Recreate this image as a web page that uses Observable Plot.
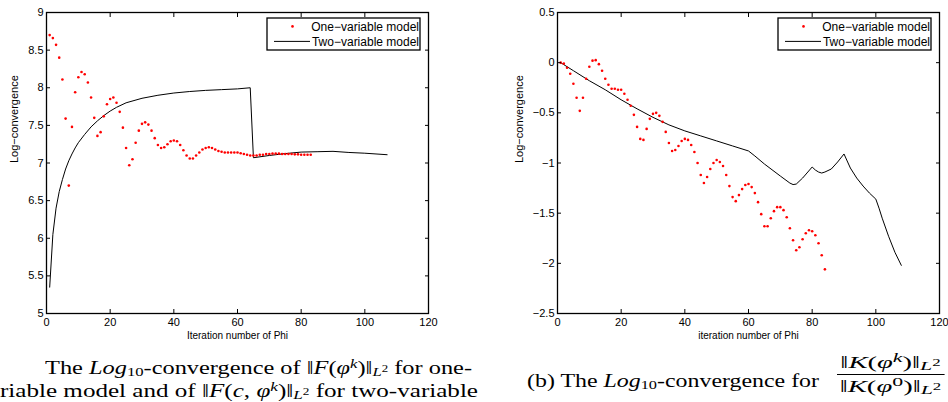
<!DOCTYPE html>
<html><head><meta charset="utf-8">
<script src="https://cdn.jsdelivr.net/npm/d3@7"></script>
<script src="https://cdn.jsdelivr.net/npm/@observablehq/plot@0.6"></script>
<style>
body{margin:0;background:#fff;width:948px;height:402px;overflow:hidden;position:relative;font-family:"Liberation Sans",Arial,sans-serif;}
.panel{position:absolute;top:0;}
.legend{position:absolute;}
.cap{position:absolute;font-family:"Liberation Serif","Times New Roman",serif;font-size:19px;line-height:19px;height:19px;white-space:nowrap;color:#000;transform-origin:0 0;}
.sb{position:relative;top:2px;font-size:13px;line-height:0;}
.sp{position:relative;top:-6px;font-size:13px;line-height:0;}
.ssp{position:relative;top:-4px;font-size:10px;line-height:0;}
.frac{position:absolute;font-family:"Liberation Serif","Times New Roman",serif;font-size:17px;line-height:17px;white-space:nowrap;text-align:center;transform-origin:0 0;}
.frac .num{padding:0 2px 3px 2px;border-bottom:1.3px solid #000;}
.frac .den{padding-top:3px;}
</style></head><body>
<div id="left" class="panel" style="left:0"></div>
<div id="right" class="panel" style="left:474px"></div>
<div id="capA1" class="cap" style="left:45px;top:358px">The <i>Log</i><span class="sb">10</span>-convergence of ‖<i>F</i>(<i>φ</i><span class="sp"><i>k</i></span>)‖<span class="sb"><i>L</i><span class="ssp">2</span></span> for one-</div>
<div id="capA2" class="cap" style="left:0px;top:381px">riable model and of ‖<i>F</i>(<i>c</i>, <i>φ</i><span class="sp"><i>k</i></span>)‖<span class="sb"><i>L</i><span class="ssp">2</span></span> for two-variable</div>
<div id="capB" class="cap" style="left:527px;top:371px">(b) The <i>Log</i><span class="sb">10</span>-convergence for</div>
<div id="fracB" class="frac" style="left:837px;top:354px"><div class="num">‖<i>K</i>(<i>φ</i><span class="sp"><i>k</i></span>)‖<span class="sb"><i>L</i><span class="ssp">2</span></span></div><div class="den">‖<i>K</i>(<i>φ</i><span class="sp">0</span>)‖<span class="sb"><i>L</i><span class="ssp">2</span></span></div></div>
<script>
// ---- tick values ----
const xTicks = [0, 20, 40, 60, 80, 100, 120];
const yTicksA = [5, 5.5, 6, 6.5, 7, 7.5, 8, 8.5, 9];
const yTicksB = [-2.5, -2, -1.5, -1, -0.5, 0, 0.5];
const seriesNames = ["One\u2212variable model", "Two\u2212variable model"];
const xLabels = ["Iteration number of Phi", "iteration number of Phi"];
const yLabel = "Log\u2212convergence";

// ---- panel (a): one-variable model (dots) ----
const iterA1 = [1,2,3,4,5,6,7,8,9,10,11,12,13,14,15,16,17,18,19,20,21,22,23,24,25,26,27,28,29,30,31,32,33,34,35,36,37,38,39,40,41,42,43,44,45,46,47,48,49,50,51,52,53,54,55,56,57,58,59,60,61,62,63,64,65,66,67,68,69,70,71,72,73,74,75,76,77,78,79,80,81,82,83];
const valA1 = [8.70,8.66,8.57,8.40,8.11,7.59,6.70,7.48,7.94,8.14,8.21,8.18,8.07,7.87,7.60,7.36,7.41,7.62,7.78,7.85,7.87,7.80,7.68,7.47,7.20,6.97,7.05,7.27,7.43,7.52,7.54,7.51,7.43,7.33,7.24,7.20,7.21,7.25,7.29,7.30,7.29,7.24,7.17,7.10,7.06,7.06,7.10,7.14,7.18,7.20,7.21,7.20,7.18,7.16,7.15,7.14,7.14,7.14,7.14,7.14,7.13,7.12,7.11,7.10,7.10,7.10,7.11,7.11,7.12,7.12,7.125,7.125,7.125,7.12,7.12,7.12,7.12,7.115,7.115,7.11,7.11,7.11,7.11];
// ---- panel (a): two-variable model (line) ----
const iterA2 = [1,2,3,4,5,6,7,8,9,10,12,14,16,18,20,22,25,30,35,40,45,50,55,60,64,65,70,75,80,85,90,95,100,107];
const valA2 = [5.35,6.05,6.40,6.62,6.78,6.92,7.03,7.12,7.20,7.27,7.38,7.48,7.56,7.63,7.69,7.74,7.80,7.86,7.90,7.93,7.95,7.965,7.975,7.985,8.00,7.07,7.10,7.125,7.145,7.15,7.155,7.14,7.13,7.11];

// ---- panel (b): one-variable model (dots) ----
const iterB1 = [1,2,3,4,5,6,7,8,9,10,11,12,13,14,15,16,17,18,19,20,21,22,23,24,25,26,27,28,29,30,31,32,33,34,35,36,37,38,39,40,41,42,43,44,45,46,47,48,49,50,51,52,53,54,55,56,57,58,59,60,61,62,63,64,65,66,67,68,69,70,71,72,73,74,75,76,77,78,79,80,81,82,83,84];
const valB1 = [0.00,-0.01,-0.05,-0.11,-0.21,-0.35,-0.48,-0.35,-0.16,-0.04,0.02,0.025,-0.015,-0.08,-0.16,-0.22,-0.26,-0.26,-0.27,-0.27,-0.31,-0.37,-0.43,-0.52,-0.64,-0.76,-0.77,-0.66,-0.56,-0.51,-0.50,-0.53,-0.59,-0.69,-0.80,-0.88,-0.87,-0.83,-0.78,-0.76,-0.77,-0.82,-0.89,-1.00,-1.12,-1.20,-1.14,-1.06,-1.00,-0.97,-0.99,-1.03,-1.12,-1.23,-1.34,-1.38,-1.32,-1.26,-1.22,-1.21,-1.24,-1.30,-1.39,-1.51,-1.63,-1.63,-1.55,-1.48,-1.44,-1.44,-1.47,-1.54,-1.65,-1.77,-1.87,-1.84,-1.76,-1.70,-1.67,-1.68,-1.72,-1.80,-1.92,-2.06];
// ---- panel (b): two-variable model (line) ----
const iterB2 = [1,5,10,15,20,25,30,35,40,45,50,55,60,62,65,70,73,74,75,77,80,81,82,83,84,86,88,90,91,92,94,96,98,100,101,102,104,106,108];
const valB2 = [0,-0.08,-0.18,-0.27,-0.37,-0.46,-0.545,-0.62,-0.68,-0.73,-0.78,-0.83,-0.88,-0.93,-1.01,-1.13,-1.20,-1.215,-1.21,-1.15,-1.04,-1.07,-1.09,-1.10,-1.09,-1.06,-0.99,-0.91,-0.98,-1.05,-1.15,-1.23,-1.30,-1.36,-1.45,-1.55,-1.73,-1.89,-2.02];

const fmtTick = d => d < 0 ? "\u2212" + Math.abs(d) : String(d);

function panel({iter1, val1, iter2, val2, yDomain, yTicks, xLabel, width, marginLeft, marginRight, yLabelDx}) {
  const dots = iter1.map((x, i) => ({x, y: val1[i]}));
  const line = iter2.map((x, i) => ({x, y: val2[i]}));
  return Plot.plot({
    width, height: 345, marginLeft, marginRight, marginTop: 12, marginBottom: 32,
    x: {domain: [0, 120]},
    y: {domain: yDomain},
    style: {fontFamily: "'Liberation Sans', Arial, sans-serif", fontSize: "11px", color: "#000", background: "#fff"},
    marks: [
      Plot.line(line, {x: "x", y: "y", stroke: "#000", strokeWidth: 1}),
      Plot.dot(dots, {x: "x", y: "y", fill: "red", r: 1.3}),
      Plot.axisX({ticks: xTicks, tickSize: -4, tickPadding: 9, label: null, tickFormat: fmtTick, stroke: "#000"}),
      Plot.axisX({anchor: "top", ticks: xTicks, tickSize: -4, tickFormat: () => "", label: null}),
      Plot.axisY({ticks: yTicks, tickSize: -4, tickPadding: 7, label: null, tickFormat: fmtTick}),
      Plot.axisY({anchor: "right", ticks: yTicks, tickSize: -4, tickFormat: () => "", label: null}),
      Plot.frame({stroke: "#000", strokeWidth: 1.3}),
      Plot.text([xLabel], {text: d => d, frameAnchor: "bottom", dy: 25, fontSize: 10}),
      Plot.text([yLabel], {text: d => d, frameAnchor: "left", rotate: -90, dx: yLabelDx, fontSize: 11})
    ]
  });
}

document.getElementById("left").append(panel({
  iter1: iterA1, val1: valA1, iter2: iterA2, val2: valA2,
  yDomain: [5, 9], yTicks: yTicksA, xLabel: xLabels[0],
  width: 474, marginLeft: 46, marginRight: 46, yLabelDx: -32
}));
document.getElementById("right").append(panel({
  iter1: iterB1, val1: valB1, iter2: iterB2, val2: valB2,
  yDomain: [-2.5, 0.5], yTicks: yTicksB, xLabel: xLabels[1],
  width: 474, marginLeft: 83, marginRight: 9, yLabelDx: -38
}));

// legends
function legend(left, top) {
  const w = 153, h = 32;
  const svg = d3.create("svg").attr("width", w + 2).attr("height", h + 2)
    .attr("class", "legend").style("left", left + "px").style("top", top + "px")
    .style("font-family", "'Liberation Sans', Arial, sans-serif").style("font-size", "12px");
  svg.append("rect").attr("x", 1).attr("y", 1).attr("width", w).attr("height", h)
    .attr("fill", "#fff").attr("stroke", "#000").attr("stroke-width", 1.3);
  svg.append("circle").attr("cx", 26.5).attr("cy", 9.4).attr("r", 1.3).attr("fill", "red");
  svg.append("line").attr("x1", 8).attr("x2", 44).attr("y1", 24.4).attr("y2", 24.4)
    .attr("stroke", "#000").attr("stroke-width", 1);
  svg.selectAll("text").data(seriesNames).join("text")
    .attr("x", w).attr("y", (d, i) => i === 0 ? 9.4 : 24.4)
    .attr("dy", "0.35em").attr("text-anchor", "end").text(d => d);
  document.body.append(svg.node());
}
legend(266, 17);
legend(777, 17);

// stretch caption lines horizontally to the widths of the reference typesetting
function fit(id, target) {
  const el = document.getElementById(id);
  const w = el.getBoundingClientRect().width;
  if (w > 0) el.style.transform = `scaleX(${target / w})`;
}
fit("capA1", 427);
fit("capA2", 478);
fit("capB", 292);
fit("fracB", 107);
</script>
</body></html>
